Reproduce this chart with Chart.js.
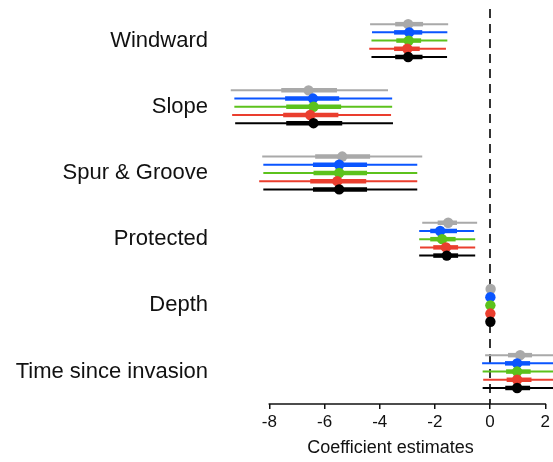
<!DOCTYPE html>
<html>
<head>
<meta charset="utf-8">
<script src="https://cdn.jsdelivr.net/npm/chart.js@4/dist/chart.umd.min.js"></script>
<style>
  html, body { margin: 0; padding: 0; background: #fff; }
  #wrap { width: 553px; height: 462px; position: relative; }
</style>
</head>
<body>
<div id="wrap"><canvas id="chartCoef"></canvas></div>
<script>
// ---------------------------------------------------------
// Datos: estimaciones de coeficientes (5 modelos)
// ---------------------------------------------------------
const categories = ['Windward', 'Slope', 'Spur & Groove', 'Protected', 'Depth', 'Time since invasion'];
const xTicks = [-8, -6, -4, -2, 0, 2];
const seriesColors = ['#a9a9a9', '#0a55ff', '#5cc21c', '#ea3e2e', '#000000'];

// grey
const estGrey  = [-2.97, -6.58, -5.36, -1.52, 0.02, 1.09];
const ci95Grey = [[-4.35, -1.52], [-9.40, -3.70], [-8.26, -2.46], [-2.46, -0.47], [-0.04, 0.08], [-0.18, 2.40]];
const ci50Grey = [[-3.44, -2.43], [-7.57, -5.55], [-6.34, -4.35], [-1.90, -1.20], [-0.01, 0.05], [0.65, 1.52]];
// blue
const estBlue  = [-2.93, -6.42, -5.47, -1.81, 0.01, 0.98];
const ci95Blue = [[-4.28, -1.55], [-9.27, -3.55], [-8.22, -2.64], [-2.57, -0.58], [-0.05, 0.07], [-0.29, 2.35]];
const ci50Blue = [[-3.48, -2.46], [-7.43, -5.47], [-6.42, -4.46], [-2.17, -1.20], [-0.02, 0.04], [0.54, 1.45]];
// green
const estGreen  = [-2.95, -6.40, -5.47, -1.74, 0.01, 0.98];
const ci95Green = [[-4.30, -1.55], [-9.27, -3.55], [-8.22, -2.64], [-2.57, -0.54], [-0.05, 0.07], [-0.27, 2.35]];
const ci50Green = [[-3.40, -2.50], [-7.39, -5.40], [-6.40, -4.46], [-2.17, -1.25], [-0.02, 0.04], [0.58, 1.47]];
// red
const estRed  = [-3.00, -6.52, -5.54, -1.60, 0.01, 0.98];
const ci95Red = [[-4.38, -1.60], [-9.35, -3.59], [-8.37, -2.64], [-2.54, -0.54], [-0.05, 0.07], [-0.25, 2.35]];
const ci50Red = [[-3.48, -2.55], [-7.50, -5.50], [-6.52, -4.49], [-2.06, -1.16], [-0.02, 0.04], [0.60, 1.50]];
// black
const estBlack  = [-2.97, -6.40, -5.47, -1.57, 0.01, 0.98];
const ci95Black = [[-4.30, -1.56], [-9.24, -3.52], [-8.22, -2.64], [-2.57, -0.54], [-0.05, 0.07], [-0.27, 2.35]];
const ci50Black = [[-3.44, -2.45], [-7.39, -5.36], [-6.42, -4.46], [-2.06, -1.16], [-0.02, 0.04], [0.55, 1.45]];

const estAll  = [estGrey, estBlue, estGreen, estRed, estBlack];
const ci95All = [ci95Grey, ci95Blue, ci95Green, ci95Red, ci95Black];
const ci50All = [ci50Grey, ci50Blue, ci50Green, ci50Red, ci50Black];

// ---------------------------------------------------------
// Construcción de datasets
// ---------------------------------------------------------
const SERIES_STEP = 0.124;   // separación vertical entre modelos (unidades de categoría)
const FONT = "'Liberation Sans', Arial, sans-serif";

function rowPos(c, s) {
    return c + (s - 2) * SERIES_STEP;
}

const datasets = [];
estAll.forEach((est, s) => {
    const color = seriesColors[s];
    categories.forEach((cat, c) => {
        const y = rowPos(c, s);
        datasets.push({
            data: [{ x: ci95All[s][c][0], y }, { x: ci95All[s][c][1], y }],
            showLine: true, borderColor: color, borderWidth: 2, pointRadius: 0,
            order: 20 + (4 - s)
        });
        datasets.push({
            data: [{ x: ci50All[s][c][0], y }, { x: ci50All[s][c][1], y }],
            showLine: true, borderColor: color, borderWidth: 4.5, pointRadius: 0,
            order: 10 + (4 - s)
        });
    });
    datasets.push({
        data: est.map((v, c) => ({ x: v, y: rowPos(c, s) })),
        backgroundColor: color, borderColor: color, borderWidth: 0, pointRadius: 5.2,
        order: 4 - s
    });
});

// línea discontinua en cero y eje x de -8 a 2 (estilo R)
const refLinesPlugin = {
    id: 'refLines',
    beforeDatasetsDraw(chart) {
        const { ctx, chartArea, scales } = chart;
        const x0 = Math.round(scales.x.getPixelForValue(0));
        ctx.save();
        ctx.strokeStyle = '#333';
        ctx.lineWidth = 2;
        ctx.setLineDash([9, 6]);
        ctx.beginPath();
        ctx.moveTo(x0, chartArea.top);
        ctx.lineTo(x0, chartArea.bottom);
        ctx.stroke();
        ctx.restore();
    },
    afterDraw(chart) {
        const { ctx, chartArea, scales } = chart;
        const xa = scales.x.getPixelForValue(xTicks[0]);
        const xb = scales.x.getPixelForValue(xTicks[xTicks.length - 1]);
        ctx.save();
        ctx.strokeStyle = '#111';
        ctx.lineWidth = 1.6;
        ctx.beginPath();
        ctx.moveTo(xa - 0.8, chartArea.bottom);
        ctx.lineTo(xb + 0.8, chartArea.bottom);
        ctx.stroke();
        ctx.restore();
    }
};

new Chart(document.getElementById('chartCoef').getContext('2d'), {
    type: 'scatter',
    data: { datasets },
    plugins: [refLinesPlugin],
    options: {
        responsive: true, maintainAspectRatio: false, animation: false,
        layout: { autoPadding: false, padding: { top: 9, left: 0, right: 0, bottom: 0 } },
        plugins: { legend: { display: false }, tooltip: { enabled: false } },
        elements: { line: { tension: 0, borderCapStyle: 'butt' } },
        scales: {
            x: {
                type: 'linear', min: -9.5, max: 2.28,
                afterBuildTicks: (scale) => { scale.ticks = xTicks.map(v => ({ value: v })); },
                afterFit: (scale) => { scale.height = 58; scale.paddingLeft = 0; scale.paddingRight = 0; },
                border: { display: false },
                grid: { display: true, drawOnChartArea: false, drawTicks: true, tickLength: 5, color: '#111', lineWidth: 1.5 },
                ticks: { color: '#111', padding: 3, font: { family: FONT, size: 17 }, maxRotation: 0 },
                title: { display: true, text: 'Coefficient estimates', color: '#111', font: { family: FONT, size: 18 }, padding: { top: 0, bottom: 3 } }
            },
            y: {
                type: 'linear', reverse: true, min: -0.477, max: 5.49,
                afterBuildTicks: (scale) => { scale.ticks = categories.map((c, i) => ({ value: i })); },
                afterFit: (scale) => { scale.width = 228; scale.paddingTop = 0; scale.paddingBottom = 0; },
                border: { display: false },
                grid: { display: false, drawTicks: false },
                ticks: { color: '#111', padding: 20, font: { family: FONT, size: 22 }, callback: (v) => categories[v] }
            }
        }
    }
});
</script>
</body>
</html>
